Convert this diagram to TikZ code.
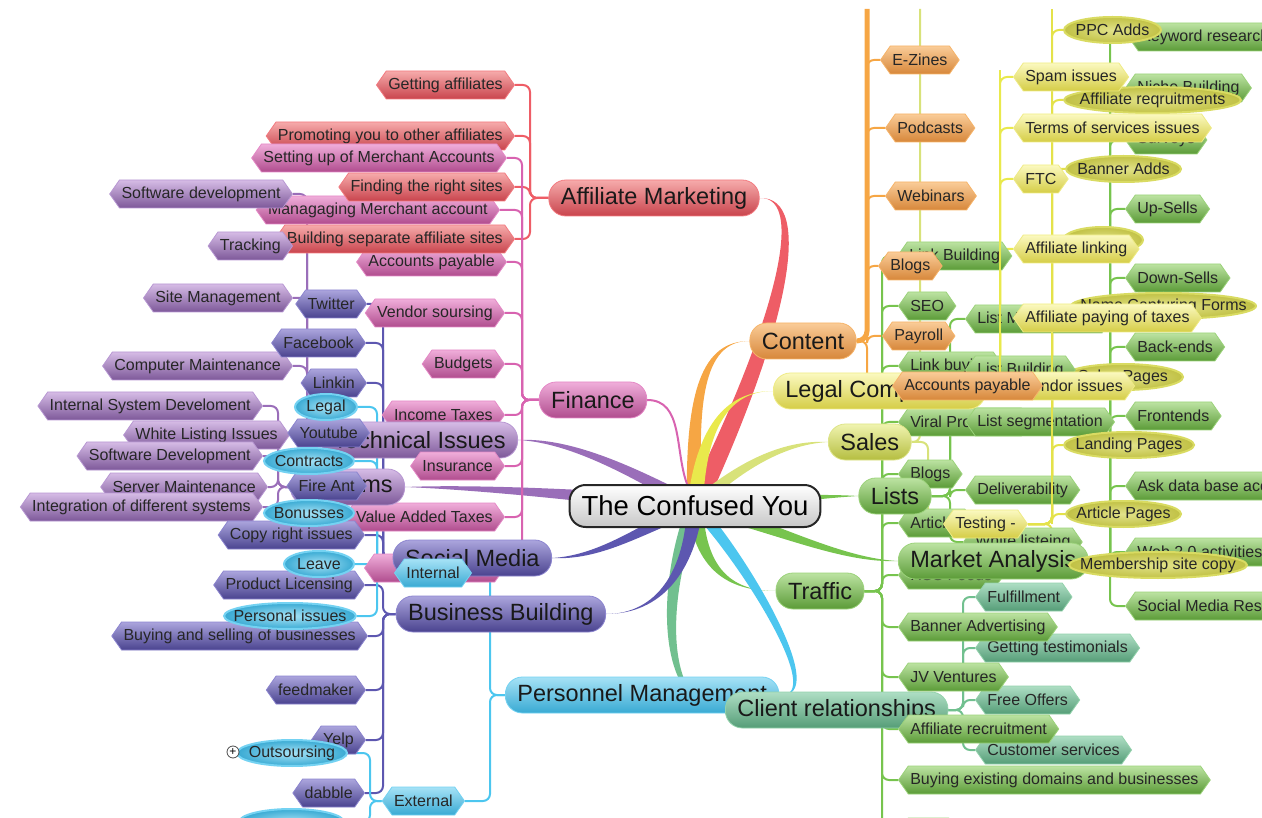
\documentclass[tikz,border=0pt]{standalone}
\usepackage{fontspec}
\setmainfont{Liberation Sans}
\usetikzlibrary{shapes.symbols,shapes.geometric,calc}
\pgfdeclarelayer{back}
\pgfsetlayers{back,main}
\definecolor{amtop}{HTML}{F6ABAB}\definecolor{ambot}{HTML}{C9444D}\definecolor{amedge}{HTML}{F27A80}\definecolor{amline}{HTML}{EE5D66}
\definecolor{fntop}{HTML}{F0AEDA}\definecolor{fnbot}{HTML}{B04C8E}\definecolor{fnedge}{HTML}{E489C6}\definecolor{fnline}{HTML}{D863B0}
\definecolor{tetop}{HTML}{D6BCE6}\definecolor{tebot}{HTML}{7D5899}\definecolor{teedge}{HTML}{B797D2}\definecolor{teline}{HTML}{9A6EB9}
\definecolor{sotop}{HTML}{ABA5DD}\definecolor{sobot}{HTML}{4A438F}\definecolor{soedge}{HTML}{8C85CF}\definecolor{soline}{HTML}{5D57B0}
\definecolor{petop}{HTML}{A6E2F6}\definecolor{pebot}{HTML}{39AAD3}\definecolor{peedge}{HTML}{74D2F2}\definecolor{peline}{HTML}{4CC6EF}
\definecolor{cotop}{HTML}{FACC98}\definecolor{cobot}{HTML}{D7873A}\definecolor{coedge}{HTML}{F6B46A}\definecolor{coline}{HTML}{F6A644}
\definecolor{letop}{HTML}{FBF9C0}\definecolor{lebot}{HTML}{D5CD46}\definecolor{leedge}{HTML}{EFEB85}\definecolor{leline}{HTML}{E9E94C}
\definecolor{sltop}{HTML}{F0F4B0}\definecolor{slbot}{HTML}{B5BE40}\definecolor{sledge}{HTML}{DDE488}\definecolor{slline}{HTML}{D8E27A}
\definecolor{satop}{HTML}{E2E38A}\definecolor{sabot}{HTML}{C1C145}\definecolor{saedge}{HTML}{D9DB62}\definecolor{saline}{HTML}{E4E24A}
\definecolor{grtop}{HTML}{BCE3A2}\definecolor{grbot}{HTML}{5B9B37}\definecolor{gredge}{HTML}{9BD27A}\definecolor{grline}{HTML}{77C44E}
\definecolor{tltop}{HTML}{AEDEC4}\definecolor{tlbot}{HTML}{559D77}\definecolor{tledge}{HTML}{93D2AC}\definecolor{tlline}{HTML}{71C08F}
\tikzset{
 hexa/.style={shape=signal,signal to=east and west,signal pointer angle=110,draw=#1edge,top color=#1top,bottom color=#1bot,line width=0.8pt,minimum height=28pt,inner xsep=2pt,inner ysep=0pt,text=black!85,font=\fontsize{16}{18}\selectfont},
 pill/.style={rectangle,rounded corners=17pt,draw=#1edge,top color=#1top,bottom color=#1bot,line width=0.8pt,minimum height=36pt,inner xsep=12pt,text=black!90,font=\fontsize{23.5}{26}\selectfont},
 oval/.style={ellipse,draw=#1edge,inner color=#1top,outer color=#1bot,line width=2pt,minimum height=26pt,inner xsep=-20pt,inner ysep=-6pt,text=black!85,font=\fontsize{16}{18}\selectfont},
 hub/.style={rectangle,rounded corners=16pt,draw=black!85,line width=2pt,top color=white,bottom color=black!22,minimum height=42pt,inner xsep=12pt,font=\fontsize{27.5}{32}\selectfont},
 twig/.style={draw=#1line,line width=2pt,rounded corners=7pt},
}
\newcommand\limbto[5]{\fill[#1]($(ctr)+(#2)$)..controls($#3+0.66*(#2)$)and($#4+0.33*(#2)$)..#5..controls($#4-0.33*(#2)$)and($#3-0.66*(#2)$)..($(ctr)-(#2)$)--cycle;}
\begin{document}
\begin{tikzpicture}[x=1pt,y=-1pt]
\useasboundingbox(0,0)rectangle(1262,818);
\clip(0,0)rectangle(1262,818);
\coordinate (lcTop) at (1000,70);
\coordinate (lcBot) at (1000,391);
\coordinate (saTop) at (1052,9);
\coordinate (saBot) at (1052,524);

\node (am2) at (515,136)[hexa=am,anchor=east]{Promoting you to other affiliates};
\node (fn1) at (507,158)[hexa=fn,anchor=east]{Setting up of Merchant Accounts};
\node (fn2) at (500,210)[hexa=fn,anchor=east]{Managaging Merchant account};
\node (fn3) at (507,262)[hexa=fn,anchor=east]{Accounts payable};
\node (fn4) at (505,313)[hexa=fn,anchor=east]{Vendor soursing};
\node (fn5) at (505,364)[hexa=fn,anchor=east]{Budgets};
\node (fn6) at (505,415)[hexa=fn,anchor=east]{Income Taxes};
\node (am1) at (515,85)[hexa=am,anchor=east]{Getting affiliates};
\node (am3) at (515,187)[hexa=am,anchor=east]{Finding the right sites};
\node (am4) at (515,239)[hexa=am,anchor=east]{Building separate affiliate sites};
\node (am) at (654,198)[pill=am]{Affiliate Marketing};
\node (fin) at (593,400)[pill=fn]{Finance};
\node (tech) at (518,440)[pill=te,anchor=east]{Technical Issues};
\node (fn7) at (505,466)[hexa=fn,anchor=east]{Insurance};
\node (fn8) at (505,517)[hexa=fn,anchor=east]{Value Added Taxes};
\node (fn9) at (505,568)[hexa=fn,anchor=east,minimum width=140pt]{};

\node (te1) at (293,194)[hexa=te,anchor=east]{Software development};
\node (te2) at (293,246)[hexa=te,anchor=east]{Tracking};
\node (te3) at (293,298)[hexa=te,anchor=east]{Site Management};
\node (te4) at (293,366)[hexa=te,anchor=east]{Computer Maintenance};
\node (te5) at (290,435)[hexa=te,anchor=east]{White Listing Issues};
\node (sy1) at (263,406)[hexa=te,anchor=east]{Internal System Develoment};
\node (sy3) at (268,487)[hexa=te,anchor=east]{Server Maintenance};
\node (sy2) at (263,456)[hexa=te,anchor=east]{Software Development};
\node (sy4) at (263,507)[hexa=te,anchor=east]{Integration of different systems};
\node (sys) at (405,487)[pill=te,anchor=east]{Systems};

\node (soc) at (552,558)[pill=so,anchor=east]{Social Media};
\node (bb) at (606,614)[pill=so,anchor=east]{Business Building};
\node (sm1) at (367,304)[hexa=so,anchor=east]{Twitter};
\node (sm2) at (366,343)[hexa=so,anchor=east]{Facebook};
\node (sm3) at (367,383)[hexa=so,anchor=east]{Linkin};
\node (sm4) at (370,433)[hexa=so,anchor=east]{Youtube};
\node (sm5) at (367,486)[hexa=so,anchor=east]{Fire Ant};
\node (sm6) at (365,535)[hexa=so,anchor=east]{Copy right issues};
\node (bb1) at (365,585)[hexa=so,anchor=east]{Product Licensing};
\node (bb2) at (368,636)[hexa=so,anchor=east]{Buying and selling of businesses};
\node (bb3) at (366,690)[hexa=so,anchor=east]{feedmaker};
\node (bb4) at (366,740)[hexa=so,anchor=east]{Yelp};
\node (bb5) at (365,793)[hexa=so,anchor=east]{dabble};

\node (pm) at (505,695)[pill=pe,anchor=west]{Personnel Management};
\node (pm1) at (472,573)[hexa=pe,anchor=east]{Internal};
\node (pm2) at (465,801)[hexa=pe,anchor=east]{External};
\node (in1) at (358,407)[oval=pe,anchor=east,minimum width=62pt]{Legal};
\node (in2) at (355,461)[oval=pe,anchor=east,minimum width=90pt]{Contracts};
\node (in3) at (355,513)[oval=pe,anchor=east,minimum width=90pt]{Bonusses};
\node (in4) at (355,564)[oval=pe,anchor=east,minimum width=70pt]{Leave};
\node (in5) at (357,616)[oval=pe,anchor=east,minimum width=132pt]{Personal issues};
\node (ex1) at (348,753)[oval=pe,anchor=east,minimum width=110pt]{Outsoursing};
\node (ex2) at (345,822)[oval=pe,anchor=east,minimum width=105pt]{};
\node (fold) at (233,752)[circle,draw=black!70,fill=white,line width=0.8pt,inner sep=0pt,minimum size=12pt,font=\fontsize{12}{12}\selectfont]{+};

\node (ctr) at (695,506)[hub]{The Confused You};

\node (mk1) at (1128,37)[hexa=gr,anchor=west]{Keyword research};
\node (mk2) at (1125,88)[hexa=gr,anchor=west]{Niche Building};
\node (mk3) at (1125,140)[hexa=gr,anchor=west]{Surveys};
\node (mk4) at (1125,209)[hexa=gr,anchor=west]{Up-Sells};
\node (mk5) at (1125,278)[hexa=gr,anchor=west]{Down-Sells};
\node (mk6) at (1125,347)[hexa=gr,anchor=west]{Back-ends};
\node (mk7) at (1125,416)[hexa=gr,anchor=west]{Frontends};
\node (mk8) at (1125,486)[hexa=gr,anchor=west]{Ask data base access};
\node (mk9) at (1125,552)[hexa=gr,anchor=west]{Web 2.0 activities};
\node (mk10) at (1125,606)[hexa=gr,anchor=west]{Social Media Research};

\node (sa1) at (1063,30)[oval=sa,anchor=west,minimum width=97pt]{PPC Adds};
\node (sa2) at (1063,100)[oval=sa,anchor=west,minimum width=177pt]{Affiliate reqruitments};
\node (sa3) at (1065,169)[oval=sa,anchor=west,minimum width=115pt]{Banner Adds};
\node (sa4) at (1062,240)[oval=sa,anchor=west,minimum width=80pt]{};
\node (sa5) at (1070,306)[oval=sa,anchor=west,minimum width=185pt]{Name Capturing Forms};
\node (sa6) at (1062,377)[oval=sa,anchor=west,minimum width=120pt]{Sales Pages};

\node (tr1) at (897,256)[hexa=gr,anchor=west]{Link Building};
\node (tr2) at (898,306)[hexa=gr,anchor=west]{SEO};
\node (tr3) at (898,366)[hexa=gr,anchor=west]{Link buying};
\node (tr4) at (898,422)[hexa=gr,anchor=west]{Viral Promotion};
\node (tr5) at (898,474)[hexa=gr,anchor=west]{Blogs};
\node (tr6) at (898,523)[hexa=gr,anchor=west]{Articles};
\node (tr7) at (898,575)[hexa=gr,anchor=west]{RSS Feeds};

\node (ls1) at (965,319)[hexa=gr,anchor=west]{List Management};
\node (ls2) at (965,370)[hexa=gr,anchor=west]{List Building};
\node (ls3) at (965,422)[hexa=gr,anchor=west]{List segmentation};
\node (ls4) at (965,490)[hexa=gr,anchor=west]{Deliverability};
\node (ls5) at (963,542)[hexa=gr,anchor=west]{White listeing};
\node (st1) at (943,524)[hexa=le,anchor=west]{Testing -};

\draw[twig=sa](saBot)--(saTop);
\draw[twig=le](lcBot)--(lcTop);

\node (lc) at (773,391)[pill=le,anchor=west]{Legal Compliance};
\node (ctt) at (803,341)[pill=co]{Content};
\node (sal) at (828,442)[pill=sl,anchor=west]{Sales};
\node (lst) at (895,496)[pill=gr]{Lists};

\node (lc1) at (1013,77)[hexa=le,anchor=west]{Spam issues};
\node (lc2) at (1013,128)[hexa=le,anchor=west]{Terms of services issues};
\node (lc3) at (1013,179)[hexa=le,anchor=west]{FTC};
\node (lc4) at (1013,249)[hexa=le,anchor=west]{Affiliate linking};
\node (lc5) at (1013,318)[hexa=le,anchor=west]{Affiliate paying of taxes};
\node (lc6) at (1010,386)[hexa=le,anchor=west]{Vendor issues};

\node (ct1) at (880,60)[hexa=co,anchor=west]{E-Zines};
\node (ct2) at (885,128)[hexa=co,anchor=west]{Podcasts};
\node (ct3) at (885,196)[hexa=co,anchor=west]{Webinars};
\node (ct4) at (878,266)[hexa=co,anchor=west]{Blogs};
\node (ct5) at (882,336)[hexa=co,anchor=west]{Payroll};
\node (ct6) at (892,386)[hexa=co,anchor=west]{Accounts payable};

\node (mkt) at (898,561)[pill=gr,anchor=west]{Market Analysis};
\node (sa7) at (1063,445)[oval=sa,anchor=west,minimum width=130pt]{Landing Pages};
\node (sa8) at (1065,514)[oval=sa,anchor=west,minimum width=115pt]{Article Pages};
\node (sa9) at (1068,565)[oval=sa,anchor=west,minimum width=178pt]{Membership site copy};

\node (cr) at (725,710)[pill=tl,anchor=west]{Client relationships};
\node (trf) at (820,591)[pill=gr]{Traffic};
\node (cr1) at (975,597)[hexa=tl,anchor=west]{Fulfillment};
\node (cr2) at (975,648)[hexa=tl,anchor=west]{Getting testimonials};
\node (cr3) at (975,700)[hexa=tl,anchor=west]{Free Offers};
\node (cr4) at (975,750)[hexa=tl,anchor=west]{Customer services};
\node (tr8) at (898,627)[hexa=gr,anchor=west]{Banner Advertising};
\node (tr9) at (898,677)[hexa=gr,anchor=west]{JV Ventures};
\node (tr10) at (898,729)[hexa=gr,anchor=west]{Affiliate recruitment};
\node (tr11) at (898,780)[hexa=gr,anchor=west]{Buying existing domains and businesses};
\node (tr12) at (898,832)[hexa=gr,anchor=west,minimum width=60pt]{};

\begin{pgfonlayer}{back}
\clip(0,0)rectangle(1262,818);
\coordinate (amT) at (530,0);
\coordinate (fnT) at (522,0);
\coordinate (teT) at (307,0);
\coordinate (syT) at (278,0);
\coordinate (soT) at (383,0);
\coordinate (peT) at (490,0);
\coordinate (inT) at (377,0);
\coordinate (exT) at (370,0);
\coordinate (coT) at (867,0);
\coordinate (coTop) at (867,9);
\coordinate (lcT) at (1000,0);
\coordinate (slT) at (928,0);
\coordinate (slTop) at (920,9);
\coordinate (saT) at (1052,0);
\coordinate (lsT) at (950,0);
\coordinate (trT) at (882,0);
\coordinate (mkT) at (1110,0);
\coordinate (crT) at (963,0);

\limbto{amline}{11,0}{(780,330)}{(812,196)}{(am.east)}
\limbto{coline}{8,0}{(690,390)}{(705,341)}{(ctt.west)}
\limbto{leline}{8,0}{(700,440)}{(720,391)}{(lc.west)}
\limbto{slline}{0,8}{(735,470)}{(780,442)}{(sal.west)}
\limbto{grline}{0,7}{(770,500)}{(820,496)}{(lst.west)}
\limbto{grline}{0,8}{(770,525)}{(840,561)}{(mkt.west)}
\limbto{grline}{8,0}{(700,570)}{(730,591)}{(trf.west)}
\limbto{peline}{8,0}{(745,560)}{(830,700)}{(pm.east)}
\limbto{tlline}{8,0}{(660,590)}{(660,712)}{(cr.west)}
\limbto{soline}{8,0}{(690,570)}{(660,614)}{(bb.east)}
\limbto{soline}{0,8}{(640,530)}{(600,558)}{(soc.east)}
\limbto{teline}{0,8}{(630,470)}{(570,440)}{(tech.east)}
\limbto{teline}{0,9}{(600,496)}{(480,487)}{(sys.east)}
\draw[twig=fn](fin.east)to[out=0,in=110](ctr);

\foreach \i in {1,...,4}\draw[twig=am](am.west)-|(amT|-am\i.east)--(am\i.east);
\foreach \i in {1,...,9}\draw[twig=fn](fin.west)-|(fnT|-fn\i.east)--(fn\i.east);
\foreach \i in {1,...,5}\draw[twig=te](tech.west)-|(teT|-te\i.east)--(te\i.east);
\foreach \i in {1,...,4}\draw[twig=te](sys.west)-|(syT|-sy\i.east)--(sy\i.east);
\foreach \i in {1,...,6}\draw[twig=so](soc.west)-|(soT|-sm\i.east)--(sm\i.east);
\foreach \i in {1,...,5}\draw[twig=so](bb.west)-|(soT|-bb\i.east)--(bb\i.east);
\foreach \i in {1,2}\draw[twig=pe](pm.west)-|(peT|-pm\i.east)--(pm\i.east);
\foreach \i in {1,...,5}\draw[twig=pe](pm1.west)-|(inT|-in\i.east)--(in\i.east);
\foreach \i in {1,2}\draw[twig=pe](pm2.west)-|(exT|-ex\i.east)--(ex\i.east);

\draw[twig=co,line width=5pt,rounded corners=10pt](ctt.east)-|(coTop);
\foreach \i in {1,...,6}\draw[twig=co](ctt.east)-|(coT|-ct\i.west)--(ct\i.west);
\foreach \i in {1,...,6}\draw[twig=le](lc.east)-|(lcT|-lc\i.west)--(lc\i.west);
\draw[twig=sl](sal.east)-|(slTop);
\draw[twig=sl](sal.east)-|(slT|-st1.west)--(st1.west);
\foreach \i in {1,...,9}\draw[twig=sa](st1.east)-|(saT|-sa\i.west)--(sa\i.west);
\foreach \i in {1,...,5}\draw[twig=gr](lst.east)-|(lsT|-ls\i.west)--(ls\i.west);
\foreach \i in {1,...,12}\draw[twig=gr](trf.east)-|(trT|-tr\i.west)--(tr\i.west);
\foreach \i in {1,...,10}\draw[twig=gr](mkt.east)-|(mkT|-mk\i.west)--(mk\i.west);
\foreach \i in {1,...,4}\draw[twig=tl](cr.east)-|(crT|-cr\i.west)--(cr\i.west);
\end{pgfonlayer}
\end{tikzpicture}
\end{document}
